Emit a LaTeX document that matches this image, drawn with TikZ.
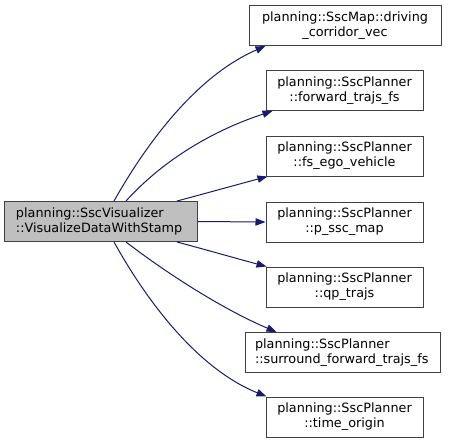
\documentclass[tikz,border=0pt]{standalone}
\usepackage{fontspec}
\setmainfont{DejaVu Sans}
\usetikzlibrary{arrows.meta}
\definecolor{edgeblue}{HTML}{191970}
\definecolor{boxline}{HTML}{404040}
\definecolor{mainfill}{HTML}{BFBFBF}
\begin{document}
\begin{tikzpicture}[x=0.75pt,y=-0.75pt,
  box/.style={draw=boxline, line width=0.75pt, fill=white, inner sep=0pt,
    minimum height=30pt, font=\fontsize{9.6}{11.25}\selectfont},
  mainbox/.style={box, fill=mainfill, minimum width=144.75pt, text width=127.5pt, align=left},
  rbox/.style={box, minimum width=117.75pt, align=center},
  edge/.style={draw=edgeblue, line width=0.75pt, -{Triangle[length=7.5pt,width=5.5pt]}}]
\useasboundingbox (0,0) rectangle (449,444);
\node[mainbox] (main) at (101,221.5) {planning::SscVisualizer\\::VisualizeDataWithStamp};
\node[rbox, minimum width=144pt] (n1) at (345,25.5) {planning::SscMap::driving\\\_corridor\_vec};
\node[rbox] (n2) at (344.5,90.5) {planning::SscPlanner\\::forward\_trajs\_fs};
\node[rbox] (n3) at (344.5,156) {planning::SscPlanner\\::fs\_ego\_vehicle};
\node[rbox] (n4) at (344.5,222) {planning::SscPlanner\\::p\_ssc\_map};
\node[rbox] (n5) at (344.5,287) {planning::SscPlanner\\::qp\_trajs};
\node[box, minimum width=146.25pt, text width=131.25pt, align=left] (n6) at (342.5,352.5) {planning::SscPlanner\\::surround\_forward\_trajs\_fs};
\node[rbox] (n7) at (344.5,417) {planning::SscPlanner\\::time\_origin};
\draw[edge] ([xshift=110*0.75pt]main.north west) .. controls +(35,-62) and +(-67,29) .. ([xshift=17*0.75pt]n1.south west);
\draw[edge] ([xshift=122*0.75pt]main.north west) .. controls +(38,-42) and +(-58,19) .. ([xshift=7*0.75pt]n2.south west);
\draw[edge] ([xshift=173*0.75pt]main.north west) .. controls +(30,-8) and +(-30,8) .. ([xshift=2*0.75pt]n3.south west);
\draw[edge] (main.east) -- (n4.west);
\draw[edge] ([xshift=173*0.75pt]main.south west) .. controls +(30,8) and +(-30,-8) .. ([xshift=1*0.75pt]n5.north west);
\draw[edge] ([xshift=122*0.75pt]main.south west) .. controls +(43,33) and +(-52,-22) .. ([xshift=32*0.75pt]n6.north west);
\draw[edge] ([xshift=110*0.75pt]main.south west) .. controls +(35,63) and +(-67,-27) .. ([xshift=1*0.75pt]n7.north west);
\end{tikzpicture}
\end{document}
